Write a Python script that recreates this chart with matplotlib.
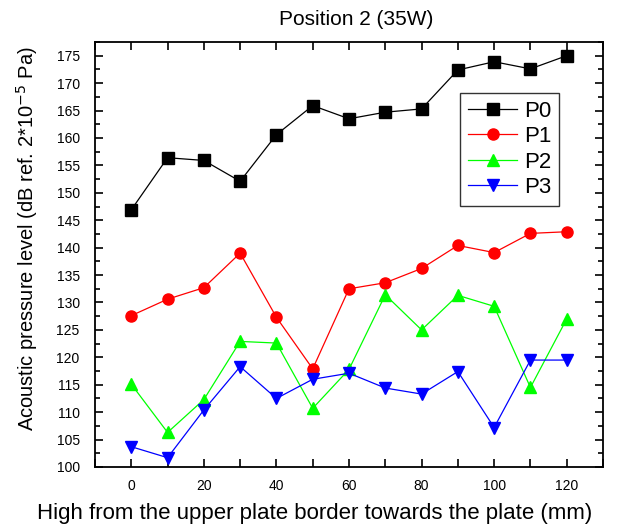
import numpy as np
import matplotlib.pyplot as plt
from matplotlib.ticker import MultipleLocator

plt.rcParams['font.family'] = ['Liberation Sans', 'DejaVu Sans']

# Distance from upper plate border (mm)
x = [0, 10, 20, 30, 40, 50, 60, 70, 80, 90, 100, 110, 120]

p0 = [146.9, 156.4, 155.9, 152.1, 160.6, 165.9, 163.5, 164.7, 165.3, 172.4, 173.9, 172.6, 175.0]
p1 = [127.6, 130.6, 132.7, 139.0, 127.3, 117.9, 132.5, 133.6, 136.2, 140.4, 139.1, 142.6, 142.9]
p2 = [115.1, 106.3, 112.3, 122.9, 122.6, 110.7, 117.8, 131.4, 125.0, 131.3, 129.3, 114.5, 127.0]
p3 = [103.7, 101.7, 110.4, 118.3, 112.5, 116.0, 117.1, 114.4, 113.3, 117.4, 107.2, 119.5, 119.5]

series = [
    ('P0', p0, 'black', 's'),
    ('P1', p1, 'red', 'o'),
    ('P2', p2, '#00ff00', '^'),
    ('P3', p3, 'blue', 'v'),
]

fig = plt.figure(figsize=(6.32, 5.27), dpi=100)
ax = fig.add_axes([95/632, 1 - 467/527, 508/632, 425/527])

for name, vals, col, mk in series:
    ax.plot(x, vals, color=col, marker=mk, markersize=8, linewidth=0.9, label=name)

ax.set_xlim(-10, 130)
ax.set_ylim(100, 177.5)
ax.xaxis.set_major_locator(MultipleLocator(20))
ax.xaxis.set_minor_locator(MultipleLocator(10))
ax.yaxis.set_major_locator(MultipleLocator(5))
ax.yaxis.set_minor_locator(MultipleLocator(2.5))
ax.tick_params(which='both', direction='in', top=True, right=True, width=1.2, labelsize=10)
ax.tick_params(which='major', length=6)
ax.tick_params(which='minor', length=3.5)
ax.tick_params(axis='x', which='minor', length=6)
ax.tick_params(axis='x', pad=9)
ax.tick_params(axis='y', pad=11)
for sp in ax.spines.values():
    sp.set_linewidth(1.3)

ax.set_xlabel('High from the upper plate border towards the plate (mm)', fontsize=16)
ax.xaxis.set_label_coords(0.433, -0.085)
ax.set_ylabel('Acoustic pressure level (dB ref. 2*10$^{-5}$ Pa)', fontsize=14.5)
ax.yaxis.set_label_coords(-0.108, 0.536)
ax.set_title('Position 2 (35W)', fontsize=15, x=0.514, y=1.0, pad=12)

leg = ax.legend(loc='upper right', bbox_to_anchor=(0.913, 0.88), borderaxespad=0, fontsize=16,
                fancybox=False, edgecolor='black', handlelength=2.2, handletextpad=0.3,
                borderpad=0.35, labelspacing=0.2)
leg.get_frame().set_linewidth(1.0)

fig.savefig('out.png', dpi=100)
